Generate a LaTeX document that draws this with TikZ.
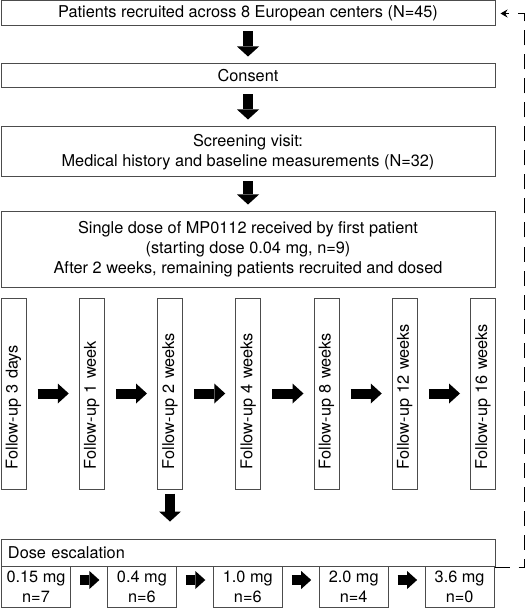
\documentclass[tikz,border=0pt]{standalone}
\usepackage{fontspec}
\setmainfont{TeX Gyre Heros}
\usetikzlibrary{arrows.meta}

\newlength{\du}
\setlength{\du}{1pt}

\definecolor{boxline}{rgb}{0.300000, 0.300000, 0.300000}
\definecolor{arrowfill}{rgb}{0.000000, 0.000000, 0.000000}

\tikzset{
  stepbox/.style={draw=boxline, fill=white, line width=1\du, inner sep=0pt, align=center,
    font=\fontsize{16.3}{20}\selectfont},
  widebox/.style={stepbox, minimum width=494\du},
  fupbox/.style={stepbox, rotate=90, text width=151\du, inner xsep=20\du,
    minimum height=25\du, align=left},
  dosebox/.style={stepbox, minimum width=69\du, minimum height=41\du},
  bigarrow/.style={draw=arrowfill, line width=10\du,
    -{Triangle[width=22pt,length=10pt,line width=0pt]}},
  sidearrow/.style={draw=arrowfill, line width=10\du,
    -{Triangle[width=20pt,length=11pt,line width=0pt]}},
  smallarrow/.style={draw=arrowfill, line width=10\du,
    -{Triangle[width=18pt,length=10pt,line width=0pt]}},
  feedback/.style={draw=black, line width=1\du, dash pattern=on 15\du off 9\du,
    -{Stealth[width=8pt,length=7pt]}}
}

\begin{document}
\begin{tikzpicture}
\pgftransformxscale{1.000000}
\pgftransformyscale{-1.000000}
\useasboundingbox (0\du,0\du) rectangle (527\du,609\du);

% boxes of the top column
\node[widebox, minimum height=25\du] (recruit) at (248\du,13.5\du)
  {Patients recruited across 8 European centers (N=45)};
\node[widebox, minimum height=24\du] (consent) at (248\du,76\du) {Consent};
\node[widebox, minimum height=50\du] (screen) at (248\du,152\du)
  {Screening visit:\\Medical history and baseline measurements (N=32)};
\node[widebox, minimum height=75\du] (single) at (248\du,249.5\du)
  {Single dose of MP0112 received by first patient\\(starting dose 0.04 mg, n=9)\\After 2 weeks, remaining patients recruited and dosed};

\draw[bigarrow, shorten <=5pt, shorten >=7pt] (recruit) -- (consent);
\draw[bigarrow, shorten <=6pt, shorten >=7pt] (consent) -- (screen);
\draw[bigarrow, shorten <=4pt, shorten >=7pt] (screen) -- (single);

% follow-up visits
\foreach \i/\txt in {1/3 days, 2/1 week, 3/2 weeks, 4/4 weeks, 5/8 weeks, 6/12 weeks, 7/16 weeks}
  \node[fupbox] (fu\i) at ({13.5\du+(\i-1)*78.25\du},393.5\du) {Follow-up \txt};
\foreach \i [evaluate=\i as \j using int(\i+1)] in {1,...,6}
  \draw[sidearrow, shorten <=11pt, shorten >=10pt] (fu\i) -- (fu\j);

% dose escalation
\node[widebox, minimum height=27\du, text width=480\du, inner xsep=7\du, align=left]
  (escal) at (248\du,552.5\du) {Dose escalation};
\draw[bigarrow, shorten <=4pt, shorten >=17pt] (fu3.west) -- (fu3.west |- escal.north);

\foreach \i/\mg/\n in {1/0.15/7, 2/0.4/6, 3/1.0/6, 4/2.0/4, 5/3.6/0}
  \node[dosebox] (d\i) at ({36\du+(\i-1)*105.9\du},586.5\du) {\mg{} mg\\n=\n};
\foreach \i [evaluate=\i as \j using int(\i+1)] in {1,...,4}
  \draw[smallarrow, shorten <=9pt, shorten >=7.5pt]
    ([yshift=-6.5pt]d\i.east) -- ([yshift=-6.5pt]d\j.west);

% loop back to recruitment
\draw[feedback, shorten >=5pt] (d5.north east) ++(0,2\du) -- ++(30\du,0) |- (recruit.east);
\end{tikzpicture}
\end{document}
